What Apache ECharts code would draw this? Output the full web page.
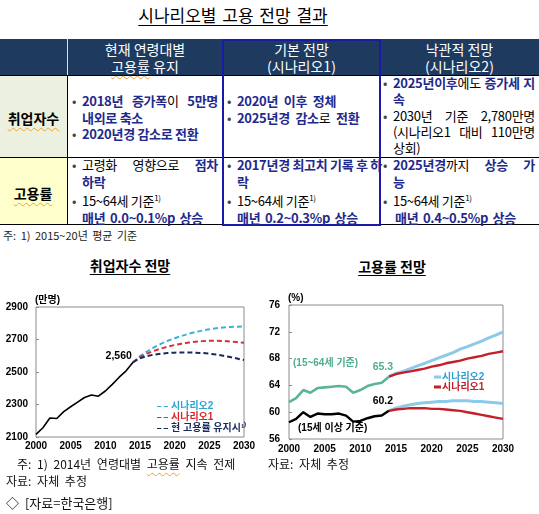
<!DOCTYPE html>
<html><head><meta charset="utf-8">
<script src="https://cdn.jsdelivr.net/npm/echarts/dist/echarts.min.js"></script>
<style>
body{margin:0;width:539px;height:514px;background:#fff;font-family:'Noto Sans CJK KR','Noto Sans',sans-serif;position:relative;overflow:hidden;color:#000}
.a{position:absolute;white-space:nowrap}
.bx{position:absolute}
.hd{color:#fff;font-size:14px;line-height:17px;text-align:center}
.cell{position:absolute;font-size:13px;letter-spacing:-0.3px}
.cell div{white-space:nowrap;overflow:visible}
.j{text-align:justify;text-align-last:justify}
.c{padding-left:10px}
.b{position:relative;padding-left:10px}
.b::before{content:'•';position:absolute;left:0;top:0;color:#444;font-weight:normal}
.g{margin-top:1.5px}
.bl{color:#1f2a8c;font-weight:bold}
.sq{text-decoration:underline wavy #e8a33c;text-underline-offset:3px;text-decoration-thickness:1px}
sup{font-size:8px;line-height:0}
.note{font-size:12px;color:#111;word-spacing:3px}
</style></head><body>
<div class="a" style="left:0;width:466px;top:4px;text-align:center;font-size:17px;line-height:21px;text-decoration:underline;text-underline-offset:3px;word-spacing:2px">시나리오별 고용 전망 결과</div>

<!-- table backgrounds -->
<div class="bx" style="left:0;top:39px;width:539px;height:37px;background:#1e3a5f"></div>
<div class="bx" style="left:67px;top:39px;width:1px;height:37px;background:#d8dee8"></div>
<div class="bx" style="left:0;top:76px;width:67px;height:81px;background:#ebf1de"></div>
<div class="bx" style="left:0;top:157px;width:67px;height:68px;background:#ffffcc"></div>
<div class="bx" style="left:0;top:75px;width:539px;height:1px;background:#000"></div>
<div class="bx" style="left:0;top:157px;width:539px;height:1px;background:#000"></div>
<div class="bx" style="left:0;top:224px;width:539px;height:1px;background:#000"></div>
<div class="bx" style="left:67px;top:76px;width:1px;height:149px;background:#000"></div>
<div class="bx" style="left:222px;top:39px;width:159px;height:187px;border:2px solid #1a1aa8;box-sizing:border-box"></div>

<!-- header -->
<div class="a hd" style="left:67px;width:156px;top:41px">현재 연령대별<br><span class="sq">고용률</span> 유지</div>
<div class="a hd" style="left:223px;width:157px;top:41px">기본 전망<br>(시나리오1)</div>
<div class="a hd" style="left:380px;width:159px;top:41px">낙관적 전망<br>(시나리오2)</div>

<div class="a" style="left:0;width:67px;top:109px;text-align:center;font-size:14px;font-weight:bold;line-height:18px"><span class="sq">취업자수</span></div>
<div class="a" style="left:0;width:66px;top:184px;text-align:center;font-size:14px;font-weight:bold;line-height:18px"><span class="sq">고용률</span></div>

<!-- row 1 -->
<div class="cell" style="left:72px;top:93px;width:146px;line-height:16.5px">
<div class="b j"><span class="bl">2018년 증가폭</span>이 <span class="bl">5만명</span></div>
<div class="c bl">내외로 축소</div>
<div class="b"><span class="bl">2020년경 감소로 전환</span></div>
</div>
<div class="cell" style="left:227px;top:93px;width:146px;line-height:16.5px;word-spacing:3px">
<div class="b"><span class="bl">2020년 이후 정체</span></div>
<div class="b"><span class="bl">2025년경 감소</span>로 <span class="bl">전환</span></div>
</div>
<div class="cell" style="left:383px;top:74.5px;width:152px;line-height:16px">
<div class="b j"><span class="bl">2025년이후</span>에도 <span class="bl">증가세 지</span></div>
<div class="c bl">속</div>
<div class="b j g">2030년 기준 2,780만명</div>
<div class="c j">(시나리오1 대비 110만명</div>
<div class="c">상회)</div>
</div>

<!-- row 2 -->
<div class="cell" style="left:72px;top:156px;width:146px;line-height:17px">
<div class="b j">고령화 영향으로 <span class="bl">점차</span></div>
<div class="c bl">하락</div>
<div class="b g">15~64세 기준<sup>1)</sup></div>
<div class="c bl" style="word-spacing:2px">매년 0.0~0.1%p 상승</div>
</div>
<div class="cell" style="left:227px;top:156px;width:149px;line-height:17px">
<div class="b j"><span class="bl">2017년경 최고치 기록 후 하</span></div>
<div class="c bl">락</div>
<div class="b g">15~64세 기준<sup>1)</sup></div>
<div class="c bl" style="word-spacing:2px">매년 0.2~0.3%p 상승</div>
</div>
<div class="cell" style="left:383px;top:156px;width:152px;line-height:17px">
<div class="b j"><span class="bl">2025년경</span>까지 <span class="bl">상승 가</span></div>
<div class="c bl">능</div>
<div class="b g">15~64세 기준<sup>1)</sup></div>
<div class="c bl" style="padding-left:12px;word-spacing:2px">매년 0.4~0.5%p 상승</div>
</div>

<div class="a" style="left:3px;top:227px;font-size:11px;line-height:16px;color:#222;word-spacing:2px">주: 1) 2015~20년 평균 기준</div>

<!-- chart titles -->
<div class="a" style="left:30px;width:200px;top:256px;text-align:center;font-size:14px;font-weight:bold;line-height:18px;text-decoration:underline;text-underline-offset:3px">취업자수 전망</div>
<div class="a" style="left:292px;width:200px;top:257px;text-align:center;font-size:14px;font-weight:bold;line-height:18px;text-decoration:underline;text-underline-offset:3px">고용률 전망</div>

<div id="cl" style="position:absolute;left:0;top:285px;width:270px;height:172px"></div>
<div id="cr" style="position:absolute;left:255px;top:285px;width:284px;height:172px"></div>

<div class="a note" style="left:17px;top:455px;line-height:18px">주: 1) 2014년 연령대별 <span class="sq">고용률</span> 지속 전제</div>
<div class="a note" style="left:268px;top:455px;line-height:18px">자료: 자체 추정</div>
<div class="a note" style="left:6px;top:472px;line-height:18px">자료: 자체 추정</div>
<div class="a note" style="left:6px;top:494px;line-height:18px;font-size:13px">◇ [자료=한국은행]</div>

<script>
// ---- data: employed persons (만명) ----
const histYears = [2000,2001,2002,2003,2004,2005,2006,2007,2008,2009,2010,2011,2012,2013,2014];
const projYears = [2014,2015,2016,2017,2018,2019,2020,2021,2022,2023,2024,2025,2026,2027,2028,2029,2030];
const employed = [2116,2157,2217,2214,2256,2286,2315,2343,2358,2351,2383,2424,2468,2507,2560];
const empScenario2 = [2560,2598,2626,2651,2673,2692,2708,2722,2735,2746,2755,2763,2769,2774,2777,2779,2781];
const empScenario1 = [2560,2592,2613,2630,2644,2656,2666,2674,2681,2686,2690,2692,2692,2691,2688,2684,2680];
const empCurrent   = [2560,2585,2598,2607,2613,2617,2619,2620,2620,2619,2617,2613,2607,2600,2592,2583,2573];
const empLabel = '2,560';
const empLegend = ['시나리오2','시나리오1','현 고용률 유지시¹⁾'];

// ---- data: employment rate (%) ----
const rate1564 = [61.5,62.1,63.3,62.9,63.6,63.7,63.8,63.9,63.8,62.9,63.3,63.9,64.2,64.4,65.3];
const rate15plus = [58.5,59.0,60.0,59.3,59.8,59.7,59.7,59.8,59.5,58.6,58.7,59.1,59.4,59.5,60.2];
const rate1564Scenario2 = [65.3,65.8,66.1,66.5,66.9,67.3,67.7,68.1,68.5,68.9,69.4,69.8,70.2,70.6,71.1,71.5,72.0];
const rate1564Scenario1 = [65.3,65.7,65.9,66.1,66.3,66.5,66.8,67.0,67.3,67.5,67.7,68.0,68.2,68.4,68.7,68.9,69.1];
const rate15Scenario2 = [60.2,60.6,60.9,61.1,61.3,61.4,61.5,61.6,61.6,61.7,61.7,61.7,61.6,61.6,61.5,61.4,61.3];
const rate15Scenario1 = [60.2,60.4,60.5,60.6,60.6,60.6,60.5,60.5,60.4,60.3,60.2,60.0,59.8,59.6,59.4,59.2,59.0];
const rateLegend = ['시나리오2','시나리오1'];

const FF = "'Liberation Sans', Arial, 'Noto Sans CJK KR', sans-serif";
const axisLbl = {fontWeight:'bold', fontSize:10, color:'#000', fontFamily:FF, formatter: v => String(v)};

function pairs(xs, ys){ return xs.map((x,i)=>[x, ys[i]]); }
function lastLabeled(xs, ys, text, opt){
  const d = pairs(xs, ys);
  const i = d.length-1;
  d[i] = {value:d[i], symbol:'circle', symbolSize:0.5,
          label:Object.assign({show:true, formatter:text, fontWeight:'bold', fontSize:10.5, color:'#000', fontFamily:FF}, opt)};
  return d;
}

// ---- left chart ----
const cl = echarts.init(document.getElementById('cl'));
cl.setOption({
  animation:false,
  grid:{left:36, top:22, width:208, height:130, show:true, borderColor:'#8c8c8c', borderWidth:1, backgroundColor:'transparent'},
  xAxis:{type:'value', min:2000, max:2030, interval:5, axisLine:{show:false}, axisTick:{show:false}, splitLine:{show:false},
         axisLabel:Object.assign({margin:4}, axisLbl)},
  yAxis:{type:'value', min:2100, max:2900, interval:200, axisLine:{show:false},
         axisTick:{show:true, inside:true, length:3, lineStyle:{color:'#8c8c8c'}}, splitLine:{show:false},
         axisLabel:Object.assign({margin:8}, axisLbl)},
  legend:{orient:'vertical', left:152, top:111, itemGap:0, itemWidth:11, itemHeight:2,
          icon:'path://M0,0H4V1H0Z M6,0H10V1H6Z',
          textStyle:{fontSize:10, fontWeight:'bold', fontFamily:FF, lineHeight:11, padding:[0,0,0,-2]},
          data:[{name:empLegend[0], textStyle:{color:'#2aa6d2'}},{name:empLegend[1], textStyle:{color:'#d6262e'}},{name:empLegend[2], textStyle:{color:'#1b2a5c'}}]},
  graphic:[{type:'text', left:35, top:10, style:{text:'(만명)', font:'bold 10px '+FF, fill:'#000'}}],
  series:[
    {type:'line', name:'hist', data:lastLabeled(histYears, employed, empLabel, {position:'left', offset:[4,-6]}), showSymbol:true, symbol:'none',
     lineStyle:{color:'#000', width:1.6}, itemStyle:{color:'#000'}, z:5},
    {type:'line', name:empLegend[0], data:pairs(projYears, empScenario2), symbol:'none', lineStyle:{color:'#3ab2d8', width:2, type:[5,3]}, itemStyle:{color:'#3ab2d8'}},
    {type:'line', name:empLegend[1], data:pairs(projYears, empScenario1), symbol:'none', lineStyle:{color:'#d8303a', width:2, type:[5,3]}, itemStyle:{color:'#d8303a'}},
    {type:'line', name:empLegend[2], data:pairs(projYears, empCurrent), symbol:'none', lineStyle:{color:'#1b2a5c', width:2, type:[5,3]}, itemStyle:{color:'#1b2a5c'}}
  ]
});

// ---- right chart ----
const cr = echarts.init(document.getElementById('cr'));
const blue = '#8ccbe8', red = '#c41f2b', green = '#5bb592';
cr.setOption({
  animation:false,
  grid:{left:34, top:20, width:214, height:134, show:true, borderColor:'#8c8c8c', borderWidth:1},
  xAxis:{type:'value', min:2000, max:2030, interval:5, axisLine:{show:false}, axisTick:{show:false}, splitLine:{show:false},
         axisLabel:Object.assign({margin:5}, axisLbl)},
  yAxis:{type:'value', min:56, max:76, interval:4, axisLine:{show:false},
         axisTick:{show:true, inside:true, length:3, lineStyle:{color:'#8c8c8c'}}, splitLine:{show:false},
         axisLabel:Object.assign({margin:9}, axisLbl)},
  legend:{orient:'vertical', left:174, top:82, itemGap:0, itemWidth:7, itemHeight:3, icon:'rect',
          textStyle:{fontSize:10, fontWeight:'bold', fontFamily:FF, lineHeight:10, padding:[0,0,0,-4]},
          data:[{name:rateLegend[0], textStyle:{color:'#2e9fd4'}},{name:rateLegend[1], textStyle:{color:'#c0202a'}}]},
  graphic:[
    {type:'text', left:33, top:8, style:{text:'(%)', font:'bold 10px '+FF, fill:'#000'}},
    {type:'text', left:38, top:73, style:{text:'(15~64세 기준)', font:'bold 10px '+FF, fill:'#4fae8a'}},
    {type:'text', left:43, top:138, style:{text:'(15세 이상 기준)', font:'bold 10px '+FF, fill:'#000'}}
  ],
  series:[
    {type:'line', name:rateLegend[0], data:pairs(projYears, rate1564Scenario2), symbol:'none', lineStyle:{color:blue, width:3}, itemStyle:{color:blue}},
    {type:'line', name:rateLegend[1], data:pairs(projYears, rate1564Scenario1), symbol:'none', lineStyle:{color:red, width:2.4}, itemStyle:{color:red}},
    {type:'line', name:rateLegend[0], data:pairs(projYears, rate15Scenario2), symbol:'none', lineStyle:{color:blue, width:3}, itemStyle:{color:blue}},
    {type:'line', name:rateLegend[1], data:pairs(projYears, rate15Scenario1), symbol:'none', lineStyle:{color:red, width:2.4}, itemStyle:{color:red}},
    {type:'line', name:'g', data:lastLabeled(histYears, rate1564, '65.3', {position:'top', offset:[-6,1], color:'#4fae8a'}), showSymbol:true, symbol:'none',
     lineStyle:{color:green, width:2.6}, itemStyle:{color:green}, z:5},
    {type:'line', name:'k', data:lastLabeled(histYears, rate15plus, '60.2', {position:'top', offset:[-6,1]}), showSymbol:true, symbol:'none',
     lineStyle:{color:'#000', width:2.4}, itemStyle:{color:'#000'}, z:5}
  ]
});
</script>
</body></html>
